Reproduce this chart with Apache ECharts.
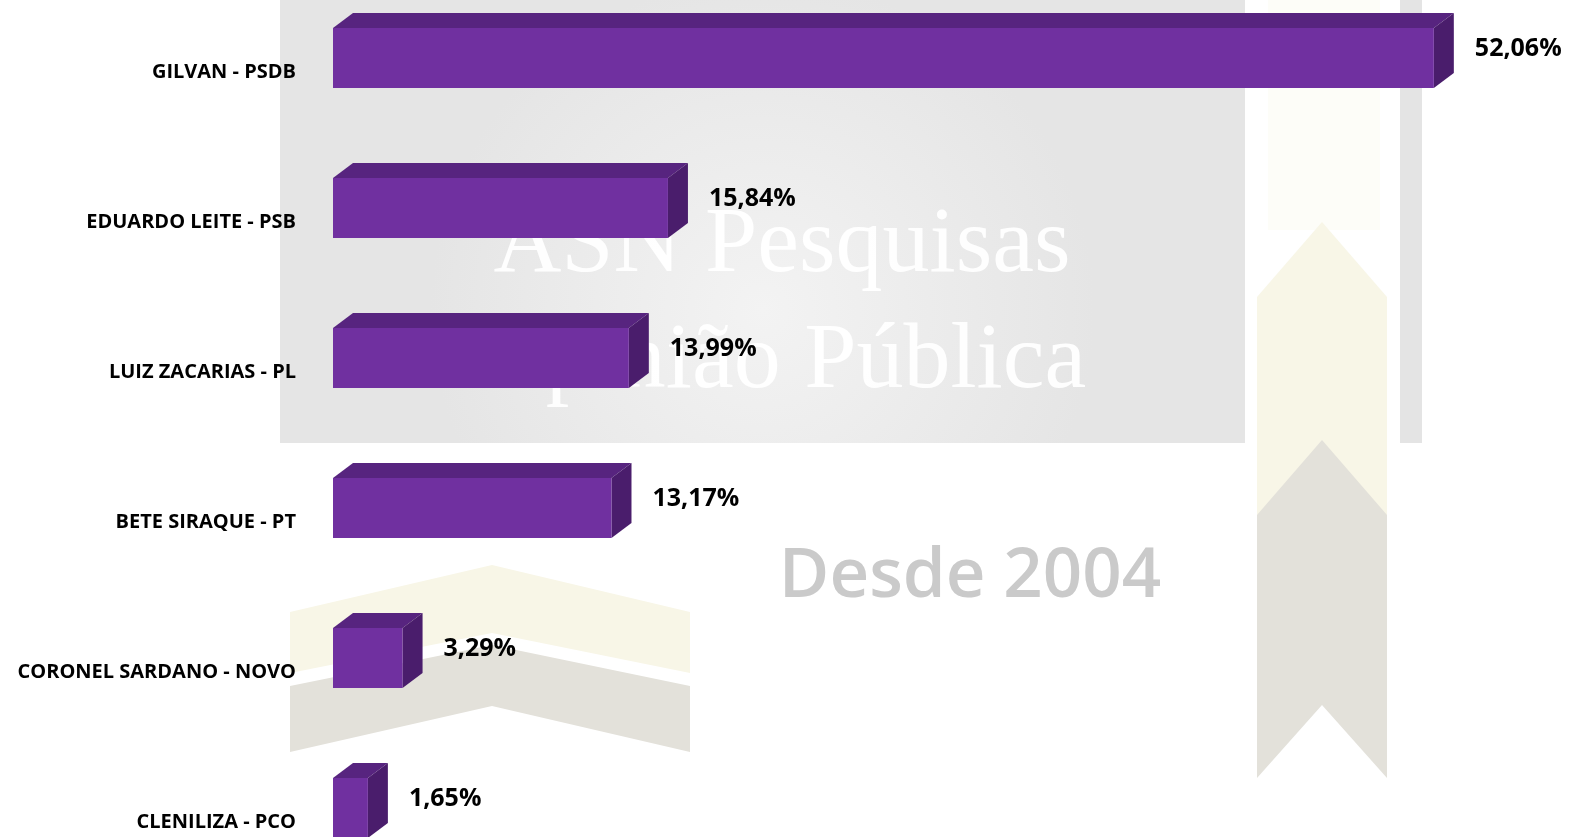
<!DOCTYPE html>
<html>
<head>
<meta charset="utf-8">
<title>Pesquisa</title>
<script src="https://cdn.jsdelivr.net/npm/echarts@6/dist/echarts.min.js"></script>
<style>
    html, body { margin: 0; padding: 0; background: #fff; }
    #chart { width: 1570px; height: 837px; }
</style>
</head>
<body>
<div id="chart"></div>
<script>
// dados
var candidatos = ['GILVAN - PSDB', 'EDUARDO LEITE - PSB', 'LUIZ ZACARIAS - PL', 'BETE SIRAQUE - PT', 'CORONEL SARDANO - NOVO', 'CLENILIZA - PCO'];
var percentuais = [52.06, 15.84, 13.99, 13.17, 3.29, 1.65];
var rotulos = ['52,06%', '15,84%', '13,99%', '13,17%', '3,29%', '1,65%'];

// cores das faces da barra 3d
var corFrente = '#7030a0';
var corTopo = '#57247f';
var corLado = '#4a1d6c';

var chart = echarts.init(document.getElementById('chart'));

var dados = percentuais.map(function (v, i) { return [v, i]; });

// desenha cada barra com frente, topo e lateral
function barra3d(params, api) {
    var cat = api.value(1);
    var ini = api.coord([0, cat]);
    var fim = api.coord([api.value(0), cat]);
    var alt = api.size([0, 1])[1] * 0.4;
    var dx = 20, dy = 15;
    var x0 = ini[0], x1 = fim[0];
    var y0 = ini[1] - alt / 2, y1 = ini[1] + alt / 2;
    return {
        type: 'group',
        children: [
            { type: 'polygon', shape: { points: [[x0, y0], [x0 + dx, y0 - dy], [x1 + dx, y0 - dy], [x1, y0]] }, style: { fill: corTopo } },
            { type: 'polygon', shape: { points: [[x1, y0], [x1 + dx, y0 - dy], [x1 + dx, y1 - dy], [x1, y1]] }, style: { fill: corLado } },
            { type: 'rect', shape: { x: x0, y: y0, width: x1 - x0, height: alt }, style: { fill: corFrente } },
            {
                type: 'text',
                x: x1 + 41, y: ini[1] - 9,
                style: {
                    text: rotulos[params.dataIndex],
                    fill: '#000',
                    font: 'bold 25px "Open Sans"',
                    align: 'left', verticalAlign: 'middle'
                }
            }
        ]
    };
}

chart.setOption({
    backgroundColor: '#ffffff',
    animation: false,
    grid: { left: 333, top: -17, width: 1163, height: 900, outerBoundsMode: 'none' },
    xAxis: {
        type: 'value', min: 0, max: 55,
        show: false
    },
    yAxis: {
        type: 'category',
        data: candidatos,
        inverse: true,
        axisLine: { show: false },
        axisTick: { show: false },
        splitLine: { show: false },
        axisLabel: {
            margin: 37,
            verticalAlign: 'top',
            lineHeight: 28,
            color: '#000',
            fontFamily: 'Open Sans',
            fontWeight: 'bold',
            fontSize: 20
        }
    },
    // marca d'agua de fundo
    graphic: [
        {
            type: 'rect', z: -10,
            shape: { x: 280, y: 0, width: 965, height: 443 },
            style: {
                fill: new echarts.graphic.RadialGradient(0.5, 0.7, 0.75, [
                    { offset: 0, color: '#f3f3f3' },
                    { offset: 1, color: '#e5e5e5' }
                ])
            }
        },
        { type: 'rect', z: -10, shape: { x: 1400, y: 0, width: 22, height: 443 }, style: { fill: '#e4e4e4' } },
        { type: 'rect', z: -10, shape: { x: 1268, y: 0, width: 112, height: 230 }, style: { fill: '#fdfdf8' } },
        // seta vertical direita
        { type: 'polygon', z: -9, shape: { points: [[1322, 222], [1387, 297], [1387, 600], [1257, 600], [1257, 297]] }, style: { fill: '#f8f6e7' } },
        { type: 'polygon', z: -8, shape: { points: [[1322, 440], [1387, 515], [1387, 778], [1322, 705], [1257, 778], [1257, 515]] }, style: { fill: '#e3e1da' } },
        // divisas da esquerda
        { type: 'polygon', z: -9, shape: { points: [[290, 612], [492, 565], [690, 612], [690, 673], [492, 633], [290, 673]] }, style: { fill: '#f8f6e7' } },
        { type: 'polygon', z: -8, shape: { points: [[290, 686], [492, 645], [690, 686], [690, 752], [492, 706], [290, 752]] }, style: { fill: '#e3e1da' } },
        {
            type: 'text', z: -7, x: 782, y: 246,
            style: { text: 'ASN Pesquisas', fill: 'rgba(255,255,255,0.95)', font: '94px "Liberation Serif"', align: 'center', verticalAlign: 'middle' }
        },
        {
            type: 'text', z: -7, x: 782, y: 362,
            style: { text: 'Opinião Pública', fill: 'rgba(255,255,255,0.95)', font: '94px "Liberation Serif"', align: 'center', verticalAlign: 'middle' }
        },
        {
            type: 'text', z: -7, x: 970, y: 577,
            style: { text: 'Desde 2004', fill: '#cacaca', font: '600 69px "Open Sans"', align: 'center', verticalAlign: 'middle' }
        }
    ],
    series: [
        {
            type: 'custom',
            renderItem: barra3d,
            encode: { x: 0, y: 1 },
            data: dados,
            z: 5
        }
    ]
});
</script>
</body>
</html>
